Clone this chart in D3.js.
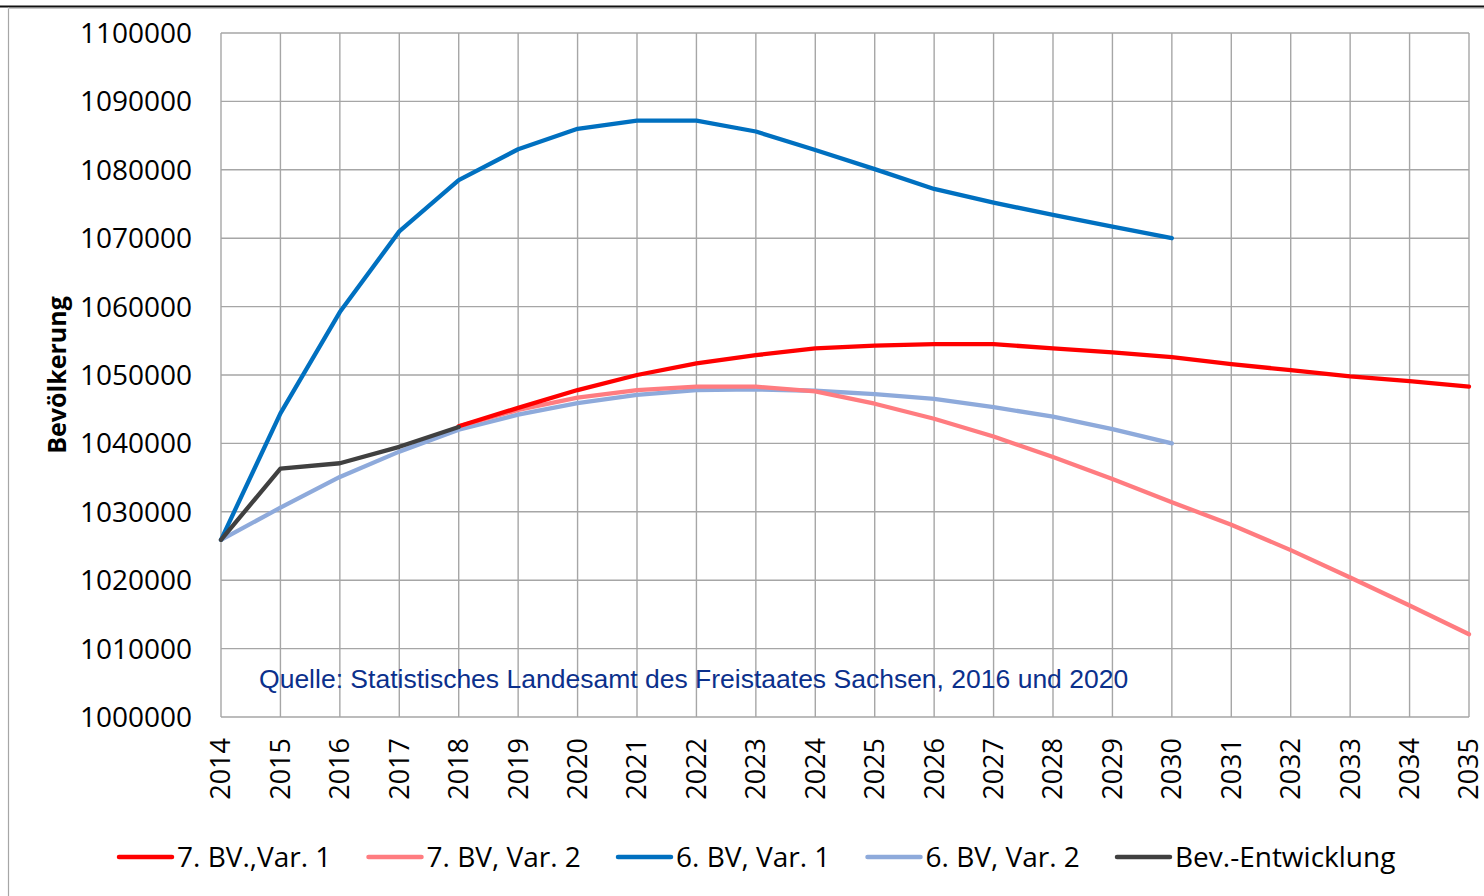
<!DOCTYPE html>
<html>
<head>
<meta charset="utf-8">
<script src="https://cdn.jsdelivr.net/npm/d3@7"></script>
<style>
  body { margin: 0; background: #fff; }
  svg { display: block; font-family: "Open Sans", sans-serif; }
</style>
</head>
<body>
<div id="chart"></div>
<script>
// 1: DATA
const years = d3.range(2014, 2036);
const yTicks = [1000000, 1010000, 1020000, 1030000, 1040000, 1050000, 1060000, 1070000, 1080000, 1090000, 1100000];

// 7. BV., Var. 1 (2018 - 2035)
const bv7var1 = [null, null, null, null, 1042500, 1045200, 1047800, 1050000, 1051700, 1052900, 1053900,
    1054300, 1054500, 1054500, 1053900, 1053300, 1052600, 1051600, 1050700, 1049800, 1049100, 1048300];
// 7. BV, Var. 2 (2018 - 2035)
const bv7var2 = [null, null, null, null, 1042500, 1044900, 1046700, 1047800, 1048300, 1048300, 1047600,
    1045800, 1043600, 1041000, 1038000, 1034800, 1031400, 1028100, 1024400, 1020400, 1016300, 1012100];
// 6. BV, Var. 1 (2014 - 2030)
const bv6var1 = [1025900, 1044400, 1059200, 1071000, 1078500, 1083000, 1086000, 1087200, 1087200, 1085600,
    1082900, 1080100, 1077200, 1075200, 1073400, 1071700, 1070000, null, null, null, null, null];
// 6. BV, Var. 2 (2014 - 2030)
const bv6var2 = [1025900, 1030600, 1035100, 1038800, 1042000, 1044200, 1045900, 1047100, 1047800, 1047900,
    1047700, 1047200, 1046500, 1045300, 1043900, 1042100, 1040000, null, null, null, null, null];
// Bev.-Entwicklung (2014 - 2018)
const bevEntw = [1025900, 1036300, 1037100, 1039500, 1042400, null, null, null, null, null, null,
    null, null, null, null, null, null, null, null, null, null, null];

const seriesNames = ["7. BV.,Var. 1", "7. BV, Var. 2", "6. BV, Var. 1", "6. BV, Var. 2", "Bev.-Entwicklung"];
const seriesValues = [bv7var1, bv7var2, bv6var1, bv6var2, bevEntw];
const seriesColors = ["#ff0000", "#ff7c80", "#0070c0", "#8eaadb", "#404040"];
// draw order (later on top)
const drawOrder = [3, 1, 0, 2, 4];

const sourceText = "Quelle: Statistisches Landesamt des Freistaates Sachsen, 2016 und 2020";

// 2: LAYOUT
const W = 1484, H = 896;
const margin = { top: 33, right: 15, bottom: 179, left: 221 };
const width = W - margin.left - margin.right;
const height = H - margin.top - margin.bottom;

const svg = d3.select("#chart").append("svg")
    .attr("width", W)
    .attr("height", H);

// outer frame
svg.append("line")
    .attr("x1", 0).attr("x2", W)
    .attr("y1", 6.5).attr("y2", 6.5)
    .attr("stroke", "#111").attr("stroke-width", 2);
svg.append("line")
    .attr("x1", 8.5).attr("x2", 8.5)
    .attr("y1", 7).attr("y2", H)
    .attr("stroke", "#a6a6a6").attr("stroke-width", 1.2);
svg.append("line")
    .attr("x1", 8).attr("x2", W)
    .attr("y1", 8.5).attr("y2", 8.5)
    .attr("stroke", "#c8c8c8").attr("stroke-width", 1);

const g = svg.append("g")
    .attr("transform", `translate(${margin.left},${margin.top})`);

// scales
const x = d3.scaleLinear()
    .domain([2014, 2035])
    .range([0, width]);

const y = d3.scaleLinear()
    .domain([1000000, 1100000])
    .range([height, 0]);

// gridlines
g.append("g")
    .selectAll("line")
    .data(yTicks)
    .enter().append("line")
    .attr("x1", 0).attr("x2", width)
    .attr("y1", d => y(d)).attr("y2", d => y(d))
    .attr("stroke", "#a6a6a6")
    .attr("stroke-width", 1.4);

g.append("g")
    .selectAll("line")
    .data(years)
    .enter().append("line")
    .attr("x1", d => x(d)).attr("x2", d => x(d))
    .attr("y1", 0).attr("y2", height)
    .attr("stroke", "#a6a6a6")
    .attr("stroke-width", 1.4);

// y tick labels
g.append("g")
    .selectAll("text")
    .data(yTicks)
    .enter().append("text")
    .attr("x", -29)
    .attr("y", d => y(d))
    .attr("dy", "0.36em")
    .attr("text-anchor", "end")
    .attr("fill", "#000")
    .style("font-size", "28px")
    .text(d => d);

// x tick labels (rotated)
g.append("g")
    .selectAll("text")
    .data(years)
    .enter().append("text")
    .attr("transform", d => `translate(${x(d)},${height + 21}) rotate(-90)`)
    .attr("dy", "0.35em")
    .attr("text-anchor", "end")
    .attr("fill", "#000")
    .style("font-size", "27px")
    .text(d => d);

// y axis title
svg.append("text")
    .attr("transform", `translate(57,375) rotate(-90)`)
    .attr("dy", "0.36em")
    .attr("text-anchor", "middle")
    .style("font-size", "25px")
    .style("font-weight", "bold")
    .text("Bevölkerung");

// source note
g.append("text")
    .attr("x", x(2014.64))
    .attr("y", y(1004300))
    .attr("fill", "#0b308c")
    .style("font-family", "'Liberation Sans', Arial, sans-serif")
    .style("font-size", "26.5px")
    .text(sourceText);

// 3: LINES
const line = d3.line()
    .defined(d => d.v !== null)
    .x(d => x(d.year))
    .y(d => y(d.v));

drawOrder.forEach(i => {
    const pts = years.map((yr, j) => ({ year: yr, v: seriesValues[i][j] }));
    g.append("path")
        .datum(pts)
        .attr("fill", "none")
        .attr("stroke", seriesColors[i])
        .attr("stroke-width", 4.3)
        .attr("stroke-linejoin", "round")
        .attr("stroke-linecap", "round")
        .attr("d", line);
});

// 4: LEGEND
const legendX = d3.scaleLinear().domain([0, 4]).range([119, 1117]);
const legend = svg.append("g")
    .selectAll("g")
    .data(seriesNames)
    .enter().append("g")
    .attr("transform", (d, i) => `translate(${legendX(i)},857)`);

legend.append("line")
    .attr("x1", 0).attr("x2", 53)
    .attr("stroke", (d, i) => seriesColors[i])
    .attr("stroke-width", 4.5)
    .attr("stroke-linecap", "round");

legend.append("text")
    .attr("x", 58)
    .attr("dy", "0.36em")
    .attr("fill", "#000")
    .style("font-size", "28px")
    .text(d => d);
</script>
</body>
</html>
